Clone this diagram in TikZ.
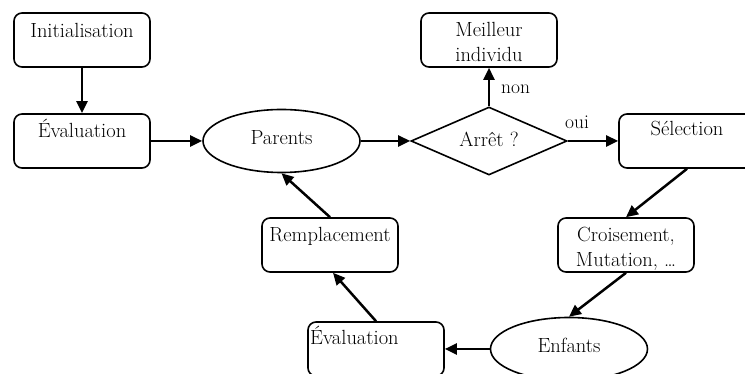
\documentclass[tikz,border=0pt]{standalone}
\usetikzlibrary{shapes.geometric,arrows.meta}
\begin{document}
\begin{tikzpicture}[x=1pt,y=1pt,
  box/.style={draw,line width=1.6pt,rounded corners=8pt,minimum width=136pt,minimum height=54pt,inner sep=0pt},
  oval/.style={draw,line width=1.6pt,ellipse,minimum width=157pt,minimum height=63pt,inner sep=0pt},
  losange/.style={draw,line width=1.6pt,diamond,minimum width=156pt,minimum height=68pt,inner sep=0pt},
  txt/.style={font=\fontsize{20.5}{25}\selectfont,inner sep=0pt,anchor=base},
  lbl/.style={font=\fontsize{19.5}{22}\selectfont,inner sep=0pt,anchor=base},
  flow/.style={line width=2.5pt,-{Triangle[length=12pt,width=11pt]}}]
\useasboundingbox (0,0) rectangle (745,374);
% shapes
\node[box] (ini) at (82,334) {};
\node[box] (ev1) at (82,233) {};
\node[oval] (par) at (281.5,233) {};
\node[losange] (arr) at (489,233) {};
\node[box] (meil) at (489,334) {};
\node[box] (sel) at (687,233) {};
\node[box] (cro) at (626,129) {};
\node[oval] (enf) at (569,25) {};
\node[box] (ev2) at (376,25) {};
\node[box] (rem) at (330,129) {};
% texts
\node[txt] (tini) at (82,336) {Initialisation};
\node[txt] (tev1) at (82,236) {Évaluation};
\node[txt] (tpar) at (281.5,229) {Parents};
\node[txt] (tarr) at (489,227) {Arrêt ?};
\node[txt] (tmeil1) at (489,337) {Meilleur};
\node[txt] (tmeil2) at (489,312) {individu};
\node[txt] (tsel) at (687,238) {Sélection};
\node[txt] (tcro1) at (626,132) {Croisement,};
\node[txt] (tcro2) at (626,107) {Mutation, \dots};
\node[txt] (trem) at (330,132) {Remplacement};
\node[txt,anchor=base west] (tev2) at (310,29) {Évaluation};
\node[txt] (tenf) at (569,21) {Enfants};
\node[lbl,anchor=base west] (tnon) at (501,280) {non};
\node[lbl,anchor=base west] (toui) at (565,245) {oui};
% connectors
\draw[flow] (ini.south) -- (ev1.north);
\draw[flow] (ev1.east) -- (par.west);
\draw[flow] (par.east) -- (arr.west);
\draw[flow] (arr.north) -- (meil.south);
\draw[flow] (arr.east) -- (sel.west);
\draw[flow] (sel.south) -- (cro.north);
\draw[flow] (cro.south) -- (enf.north);
\draw[flow] (enf.west) -- (ev2.east);
\draw[flow] (ev2.north) -- ([xshift=3pt]rem.south);
\draw[flow] (rem.north) -- (par.south);
\end{tikzpicture}
\end{document}
